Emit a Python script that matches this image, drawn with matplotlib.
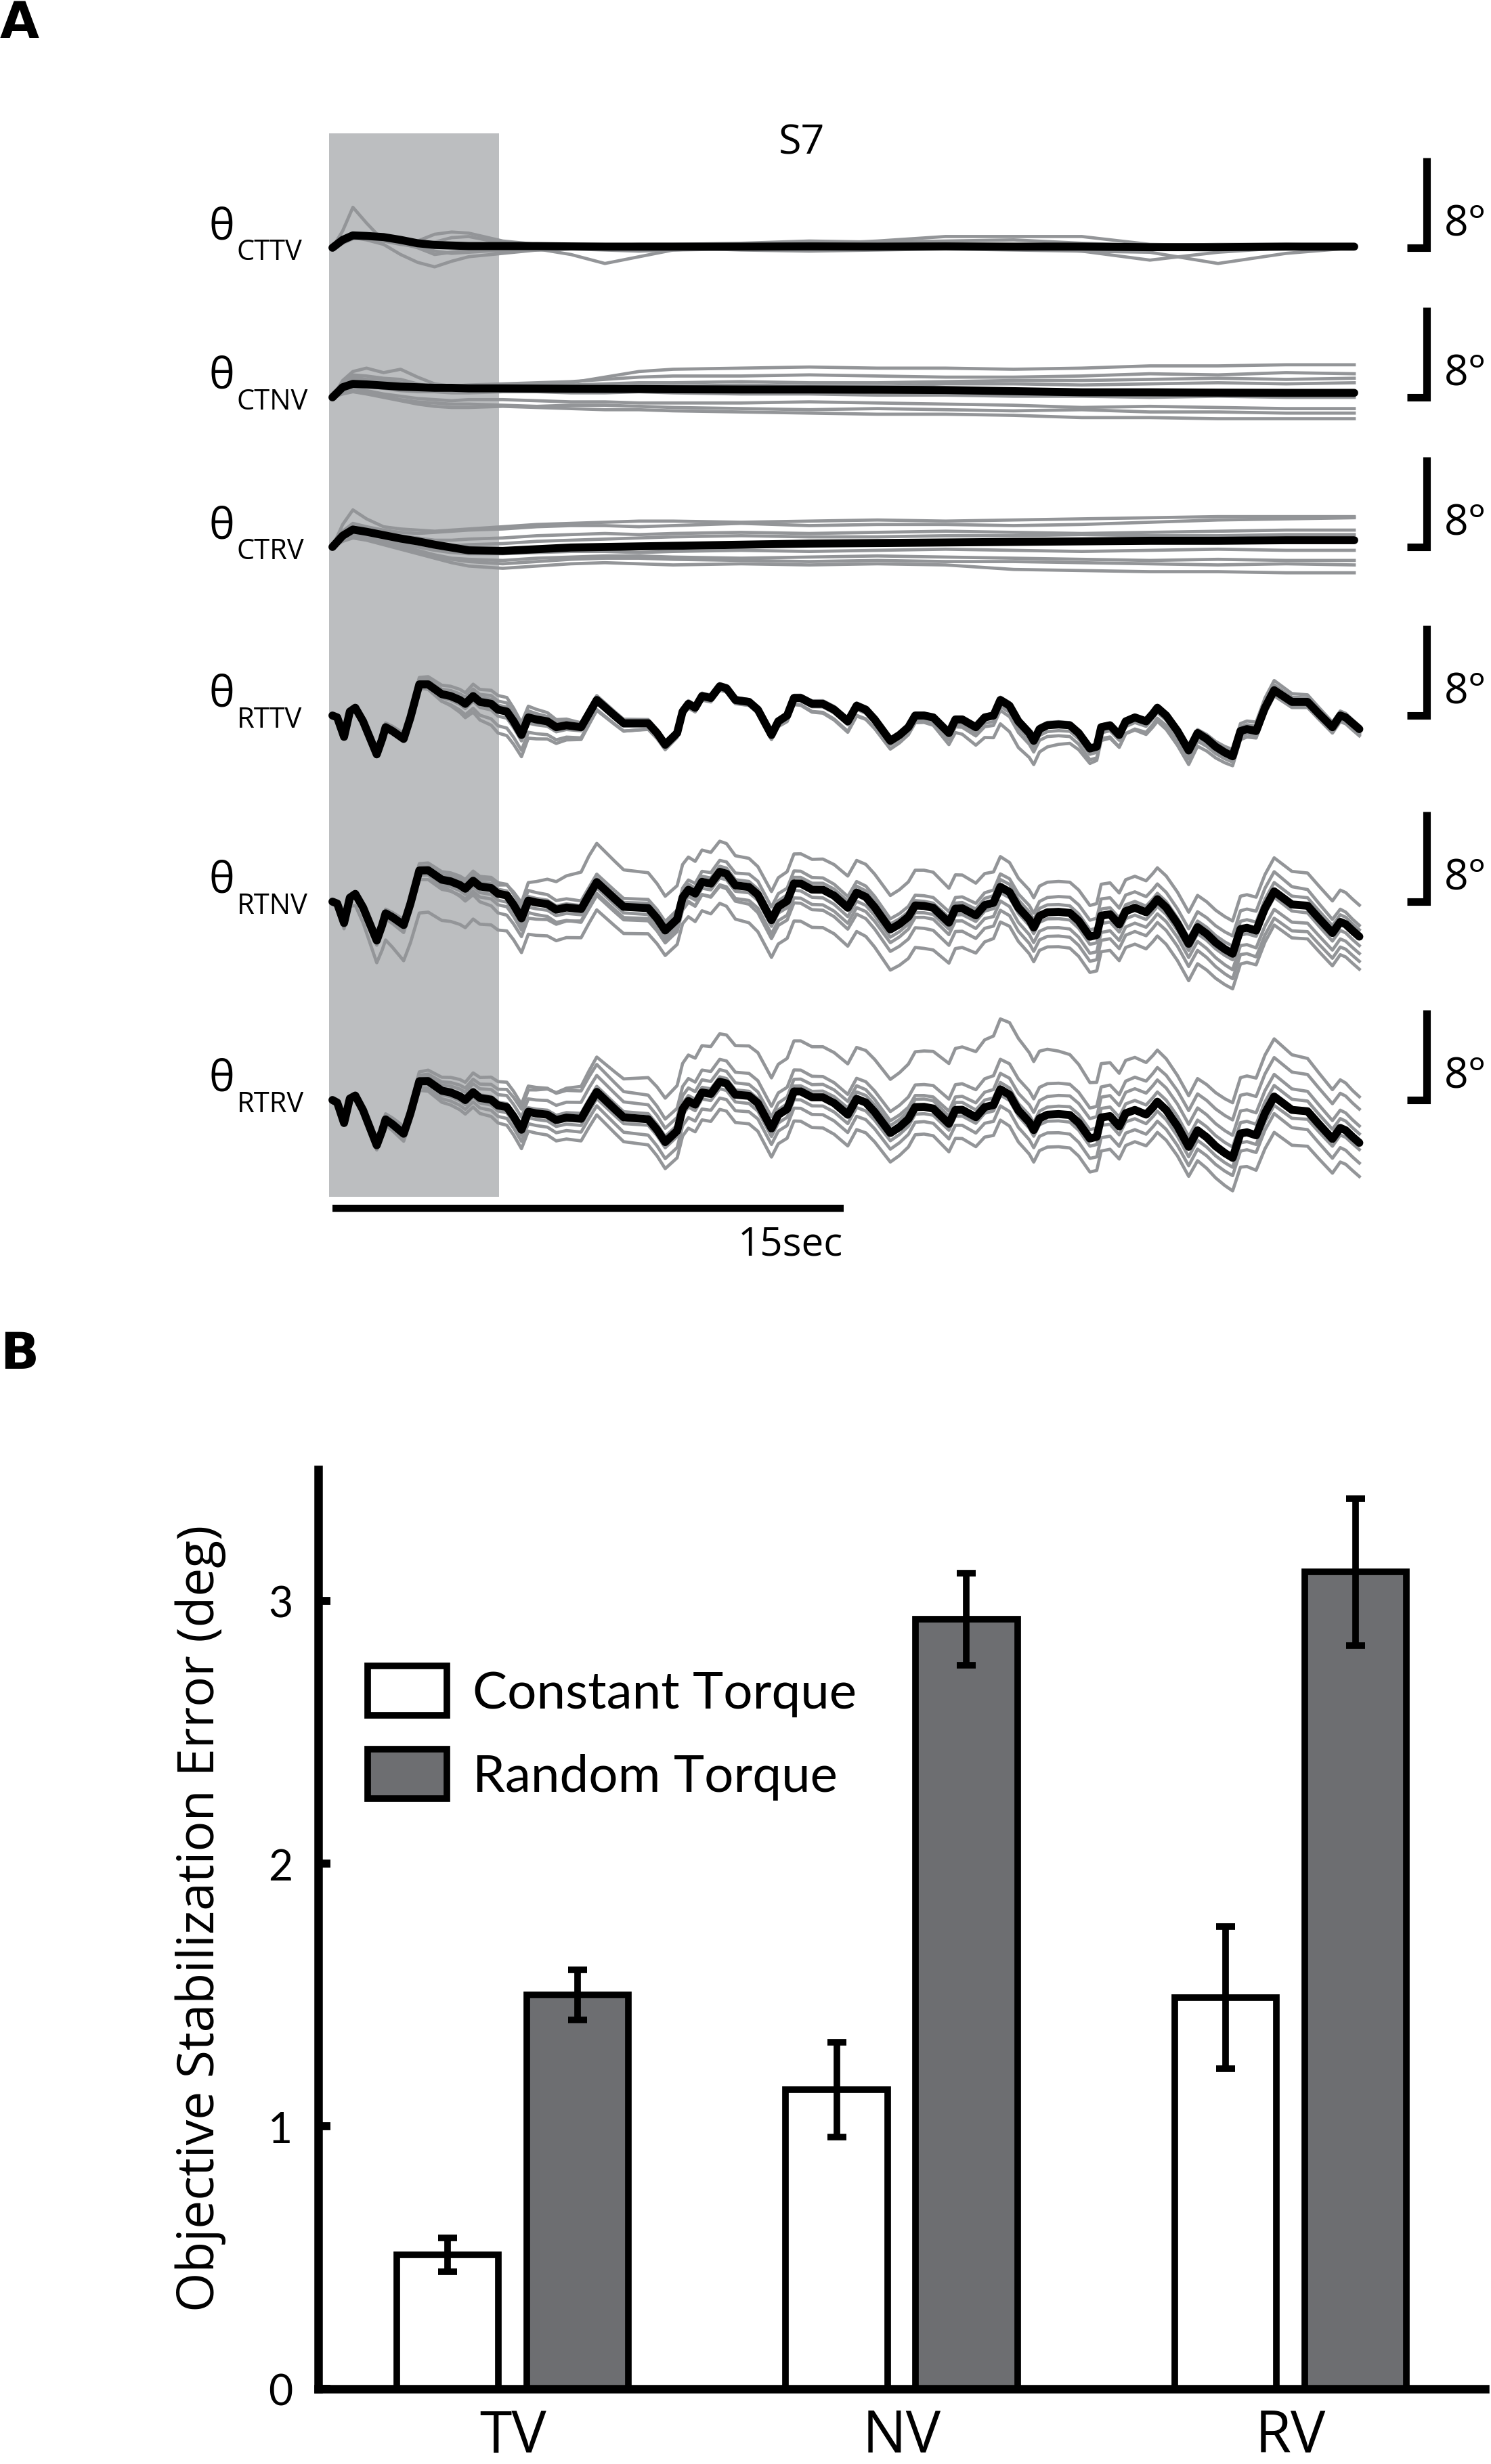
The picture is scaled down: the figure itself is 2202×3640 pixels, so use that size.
import numpy as np
import matplotlib
matplotlib.use('Agg')
import matplotlib.pyplot as plt

# ====================== DATA : panel A (S7 traces) ======================
subject = 'S7'
row_labels = ['CTTV', 'CTNV', 'CTRV', 'RTTV', 'RTNV', 'RTRV']
shade_window = (-0.1, 4.9)      # seconds
time_bar_s = 15                 # seconds
angle_bar_deg = 8               # degrees

# constant-torque rows (deg)
t_ct = [0, 0.3, 0.6, 1.0, 1.5, 2.0, 2.5, 3.0, 3.5, 4.0, 5.0, 6.0, 7.0, 8.0, 9.0,
        10, 12, 14, 16, 18, 20, 22, 24, 26, 28, 30]

cttv_mean = [0, 0.7, 1.1, 1.05, 0.95, 0.7, 0.4, 0.25, 0.2, 0.15, 0.15, 0.15, 0.12,
             0.1, 0.1, 0.1, 0.1, 0.12, 0.1, 0.12, 0.1, 0.1, 0.05, 0.05, 0.1, 0.1]
cttv_trials = [
    [0, 1.5, 3.6, 2.2, 0.6, 0.4, 0.6, 1.2, 1.4, 1.3, 0.6, 0.3, 0.3, 0.2, 0.3, 0.3, 0.4, 0.6, 0.5, 0.6, 0.7, 0.4, 0.2, 0.3, 0.3, 0.2],
    [0, 0.5, 0.9, 0.7, 0.3, -0.6, -1.3, -1.7, -1.2, -0.8, -0.5, -0.2, -0.1, -0.2, -0.3, -0.2, -0.1, 0.0, 0.1, 0.2, 0.1, 0.0, -0.1, -0.2, 0.0, 0.1],
    [0, 0.4, 0.8, 0.9, 0.8, 0.5, 0.2, -0.3, -0.5, -0.4, -0.2, -0.1, -0.6, -1.4, -0.8, -0.2, 0.1, 0.3, 0.6, 1.0, 1.0, 1.0, 0.3, 0.2, 0.1, 0.1],
    [0, 0.6, 1.0, 0.8, 0.6, 0.3, 0.1, 0.5, 0.9, 1.0, 0.4, 0.0, 0.1, 0.0, -0.1, 0.1, 0.2, 0.1, 0.0, -0.1, 0.0, -0.3, -1.1, -0.4, 0.0, 0.0],
    [0, 0.5, 0.9, 0.8, 0.7, 0.4, 0.0, -0.6, -0.4, -0.2, -0.3, -0.2, -0.1, 0.0, 0.1, 0.0, -0.2, -0.3, -0.2, -0.1, -0.2, -0.3, -0.4, -1.4, -0.5, 0.0],
]

ctnv_mean = [0, 0.9, 1.2, 1.15, 1.05, 0.95, 0.9, 0.85, 0.85, 0.8, 0.8, 0.78, 0.76,
             0.75, 0.74, 0.72, 0.7, 0.7, 0.68, 0.65, 0.55, 0.45, 0.45, 0.42, 0.4, 0.4]
ctnv_trials = [
    [0, 1.5, 2.3, 2.6, 2.2, 2.5, 1.8, 1.2, 1.0, 0.9, 1.0, 1.2, 1.3, 1.8, 2.3, 2.5, 2.6, 2.7, 2.6, 2.6, 2.5, 2.6, 2.8, 2.8, 2.9, 2.9],
    [0, 1.2, 1.8, 1.6, 1.5, 1.3, 1.1, 1.0, 1.0, 1.1, 1.2, 1.3, 1.4, 1.6, 1.8, 1.9, 1.9, 2.0, 1.9, 1.8, 1.8, 1.9, 2.1, 2.0, 2.2, 2.1],
    [0, 1.0, 1.6, 1.4, 1.3, 1.1, 1.0, 0.9, 0.9, 1.0, 1.0, 1.0, 1.1, 1.2, 1.3, 1.3, 1.4, 1.3, 1.3, 1.4, 1.5, 1.5, 1.6, 1.7, 1.6, 1.7],
    [0, 0.8, 1.1, 1.0, 0.8, 0.6, 0.5, 0.5, 0.4, 0.4, 0.5, 0.5, 0.4, 0.4, 0.5, 0.4, 0.3, 0.3, 0.2, 0.2, 0.1, 0.1, 0.0, 0.1, 0.0, 0.0],
    [0, 0.6, 0.9, 0.6, 0.3, 0.1, -0.1, -0.2, -0.3, -0.2, -0.2, -0.3, -0.4, -0.4, -0.5, -0.5, -0.5, -0.4, -0.5, -0.6, -0.7, -0.9, -0.8, -0.9, -1.0, -1.0],
    [0, 0.4, 0.6, 0.4, 0.1, -0.2, -0.4, -0.5, -0.6, -0.6, -0.7, -0.8, -0.7, -0.7, -0.8, -0.9, -1.0, -1.1, -1.0, -1.1, -1.2, -1.1, -1.3, -1.3, -1.4, -1.4],
    [0, 0.3, 0.5, 0.3, 0.0, -0.3, -0.6, -0.8, -0.9, -0.9, -0.8, -0.9, -1.0, -1.1, -1.1, -1.2, -1.3, -1.4, -1.5, -1.5, -1.6, -1.8, -1.8, -1.9, -1.9, -1.9],
    [0, 1.3, 2.0, 1.9, 1.7, 1.6, 1.2, 0.9, 0.8, 0.8, 0.9, 1.0, 1.0, 0.9, 1.0, 1.0, 1.1, 1.0, 1.0, 1.2, 1.2, 1.1, 1.2, 1.3, 1.2, 1.3],
]

ctrv_mean = [0, 1.0, 1.55, 1.35, 1.05, 0.75, 0.5, 0.2, -0.05, -0.3, -0.35, -0.2, -0.05,
             0.0, 0.05, 0.1, 0.2, 0.3, 0.35, 0.4, 0.45, 0.5, 0.55, 0.55, 0.6, 0.6]
ctrv_trials = [
    [0, 2.0, 3.3, 2.5, 1.8, 1.6, 1.5, 1.4, 1.5, 1.6, 1.8, 2.0, 2.1, 2.2, 2.3, 2.3, 2.2, 2.3, 2.4, 2.3, 2.4, 2.5, 2.6, 2.7, 2.7, 2.7],
    [0, 1.4, 2.1, 1.8, 1.5, 1.3, 1.2, 1.3, 1.4, 1.5, 1.6, 1.8, 1.9, 1.9, 1.8, 1.9, 2.1, 1.9, 2.0, 2.0, 1.9, 2.0, 2.2, 2.4, 2.5, 2.6],
    [0, 1.2, 1.8, 1.5, 1.2, 1.0, 0.8, 0.6, 0.6, 0.7, 0.8, 1.0, 1.1, 1.2, 1.1, 1.2, 1.3, 1.2, 1.3, 1.4, 1.3, 1.2, 1.3, 1.4, 1.5, 1.5],
    [0, 1.0, 1.5, 1.3, 1.0, 0.7, 0.4, 0.2, 0.1, 0.2, 0.3, 0.5, 0.6, 0.7, 0.8, 0.9, 1.0, 0.9, 0.9, 1.0, 1.0, 1.1, 1.0, 1.0, 1.1, 1.1],
    [0, 0.8, 1.2, 1.0, 0.6, 0.3, 0.0, -0.3, -0.5, -0.6, -0.6, -0.5, -0.4, -0.4, -0.5, -0.4, -0.3, -0.4, -0.3, -0.2, -0.3, -0.4, -0.3, -0.2, -0.3, -0.3],
    [0, 0.7, 1.0, 0.8, 0.4, 0.1, -0.3, -0.7, -1.0, -1.1, -1.2, -1.0, -0.9, -0.8, -0.8, -0.9, -1.0, -0.9, -0.8, -0.9, -1.0, -1.1, -1.2, -1.1, -1.2, -1.2],
    [0, 0.5, 0.8, 0.6, 0.2, -0.2, -0.6, -1.0, -1.4, -1.7, -1.9, -1.7, -1.5, -1.4, -1.5, -1.6, -1.5, -1.6, -1.5, -1.6, -2.0, -2.1, -2.2, -2.2, -2.3, -2.3],
    [0, 0.6, 1.1, 0.9, 0.5, 0.0, -0.4, -0.8, -1.1, -1.3, -1.5, -1.3, -1.1, -1.0, -1.0, -1.1, -1.2, -1.3, -1.2, -1.3, -1.3, -1.4, -1.5, -1.6, -1.5, -1.6],
]

# random-torque rows: mean response (deg) read point by point
t_rt = [0.00, 0.14, 0.34, 0.51, 0.67, 0.90, 1.30, 1.46, 1.56, 1.76,
        2.09, 2.29, 2.55, 2.81, 3.21, 3.47, 3.74, 3.90, 4.13, 4.33,
        4.66, 4.86, 5.12, 5.32, 5.55, 5.75, 5.98, 6.31, 6.57, 6.87,
        7.30, 7.53, 7.76, 8.02, 8.28, 8.55, 8.81, 9.27, 9.53, 9.77,
        10.12, 10.28, 10.45, 10.65, 10.85, 11.11, 11.37, 11.57, 11.83, 12.23,
        12.49, 12.89, 13.09, 13.35, 13.55, 13.75, 14.08, 14.40, 14.73, 15.13,
        15.39, 15.66, 15.92, 16.38, 16.65, 16.91, 17.11, 17.37, 17.64, 18.10,
        18.29, 18.49, 18.89, 19.15, 19.41, 19.61, 19.88, 20.14,
        20.46, 20.59, 20.76, 20.99, 21.32, 21.65, 21.91, 22.24, 22.44, 22.57,
        22.83, 23.10, 23.29, 23.56, 23.89, 24.09, 24.22, 24.48, 24.81, 25.14,
        25.40, 25.67, 25.93, 26.20, 26.43, 26.66, 26.85, 27.12, 27.38, 27.65,
        27.91, 28.17, 28.63, 28.96, 29.36, 29.59, 29.75, 29.95, 30.15]
rttv_mean = [0.00, -0.17, -1.90, 0.35, 0.69, -0.52, -3.46, -2.08, -1.04, -1.38,
             -2.08, -0.17, 2.77, 2.77, 1.90, 1.73, 1.38, 1.04, 1.73, 1.21,
             1.04, 0.52, 0.35, -0.52, -1.73, -0.17, -0.35, -0.52, -1.04, -0.87,
             -1.04, 0.17, 1.38, 0.69, 0.00, -0.69, -0.69, -0.69, -1.56, -2.60,
             -1.56, 0.35, 1.04, 0.69, 1.73, 1.56, 2.60, 2.42, 1.38, 1.21,
             0.52, -1.73, -0.52, 0.00, 1.56, 1.56, 1.04, 1.04, 0.52, -0.52,
             0.87, 0.52, -0.35, -2.25, -1.73, -1.04, 0.00, 0.00, -0.17, -1.56,
             -0.35, -0.35, -1.04, -0.17, 0.00, 1.38, 0.87, -0.52,
             -1.56, -2.25, -1.21, -0.87, -0.80, -0.87, -1.56, -2.94, -2.77, -1.04,
             -0.87, -1.73, -0.52, -0.17, -0.52, 0.17, 0.69, 0.00, -1.38, -3.11,
             -1.56, -2.08, -2.77, -3.29, -3.63, -1.38, -1.21, -1.38, 0.69, 2.25,
             1.73, 1.21, 1.21, 0.17, -1.04, 0.00, -0.17, -0.69, -1.21]

# slow offsets (deg) read at these times, relative to the RTTV mean / row mean
drift_knots = [0, 2.5, 5, 7.5, 10, 12.5, 15, 17.5, 20, 22.5, 25, 27.5, 30]
rtnv_mean_dev = [0, 0.0, 0.2, 0.4, 0.0, 0.1, 0.0, -0.4, 0.0, -0.2, -0.6, -1.3, -1.9]
rtrv_mean_dev = [0, -1.1, -1.0, -0.6, -1.2, -0.8, -0.8, -0.6, -0.4, -0.5, -1.0, -1.9, -2.6]

rttv_trial_dev = [
    [0, 0.6, 1.3, 0.3, 0.2, 0.2, 0.0, 0.2, 0.1, 0.2, 0.1, 0.5, 0.2],
    [0, 0.3, 0.8, 0.1, 0.0, 0.1, 0.2, 0.1, -0.2, -0.1, 0.0, 0.3, 0.0],
    [0, -0.2, -0.6, -0.3, -0.2, -0.2, -0.3, -0.4, -0.6, -0.5, -0.4, -0.3, -0.4],
    [0, -0.3, -1.5, -0.9, -0.4, -0.3, -0.9, -0.6, -2.4, -1.2, -0.8, -0.3, -0.6],
    [0, 0.0, -2.2, -1.0, -0.3, -0.3, -1.0, -0.5, -1.0, -1.0, -1.3, -0.5, -0.5],
    [0, 0.4, 0.4, 0.4, 0.3, 0.2, 0.3, 0.0, 0.3, 0.2, 0.2, 0.9, 0.3],
]
rtnv_trial_dev = [
    [0, 0.3, 0.8, 3.5, 3.0, 2.5, 2.8, 3.2, 2.6, 2.8, 2.8, 3.0, 2.8],
    [0, 0.6, 1.0, 0.7, 0.8, 1.2, 1.0, 0.9, 1.2, 1.5, 1.3, 1.8, 1.0],
    [0, 0.3, 0.4, 0.3, 0.5, 0.5, 0.6, 0.4, 0.7, 0.6, 0.5, 0.8, 0.6],
    [0, -0.4, -0.6, -0.5, -0.6, -0.5, -0.8, -0.6, -0.5, -0.7, -0.6, -0.5, -0.8],
    [0, -0.8, -1.0, -1.2, -1.1, -1.2, -1.4, -1.0, -1.3, -1.5, -1.2, -1.6, -1.5],
    [0, -3.8, -3.2, -2.5, -2.2, -3.3, -3.4, -3.8, -3.0, -3.2, -3.3, -3.0, -2.9],
    [0, -0.2, -1.8, -1.0, -0.9, -1.6, -1.9, -2.0, -2.1, -2.2, -2.0, -2.4, -2.2],
]
rtrv_trial_dev = [
    [0, 0.5, 1.5, 3.0, 4.0, 4.5, 4.5, 5.0, 6.5, 4.8, 4.5, 5.2, 4.1],
    [0, 0.8, 2.2, 2.5, 2.0, 2.0, 1.8, 2.0, 2.8, 2.7, 3.2, 3.5, 3.0],
    [0, 0.3, 1.0, 1.5, 1.2, 1.0, 1.2, 1.0, 1.5, 1.8, 2.0, 2.0, 1.5],
    [0, 0.2, 0.3, 0.5, 0.5, 0.4, 0.6, 0.7, 0.6, 0.8, 0.9, 1.0, 0.8],
    [0, -0.3, -0.5, -0.6, -0.5, -0.7, -0.8, -0.6, -0.5, -0.7, -0.9, -0.8, -0.6],
    [0, -0.6, -1.0, -1.2, -1.5, -1.4, -1.6, -1.3, -1.5, -1.8, -1.7, -1.5, -1.8],
    [0, -0.8, -1.6, -2.0, -2.4, -2.5, -2.8, -2.4, -2.8, -3.0, -2.6, -3.2, -3.0],
]

# ====================== DATA : panel B (bar chart) ======================
conditions = ['TV', 'NV', 'RV']
series_names = ['Constant Torque', 'Random Torque']
constant_mean = [0.51, 1.14, 1.49]
constant_err = [0.065, 0.18, 0.27]
random_mean = [1.50, 2.93, 3.11]
random_err = [0.095, 0.175, 0.28]
y_ticks = [0, 1, 2, 3]
y_label = 'Objective Stabilization Error (deg)'

# ====================== LAYOUT / STYLE ======================
W, H = 2202, 3641
SANS = ['Open Sans', 'DejaVu Sans']
GEO = ['Lato', 'DejaVu Sans']
GREY_TRACE = '#939598'
SHADE = '#BCBEC0'
DARK_BAR = '#6D6E71'

fig = plt.figure(figsize=(W / 100, H / 100), dpi=100)

def fx(px):
    return px / W

def fy(py):
    return 1 - py / H

# ---------- panel A ----------
A_BOT = 1900          # px
X0, PX_S, PX_DEG = 491, 50.3, 16.6
axA = fig.add_axes([0, 1 - A_BOT / H, 1, A_BOT / H])
axA.set_xlim(-X0 / PX_S, (W - X0) / PX_S)
axA.set_ylim(0, A_BOT / PX_DEG)
axA.axis('off')

def ydeg(py):
    return (A_BOT - py) / PX_DEG

def tsec(px):
    return (px - X0) / PX_S

base_px = [367, 588, 809, 1058, 1333, 1626]

axA.axvspan(shade_window[0], shade_window[1],
            ymin=(A_BOT - 1769) / A_BOT, ymax=(A_BOT - 198) / A_BOT,
            color=SHADE, lw=0, zorder=0)

t_ct_a = np.array(t_ct, float)
t_rt_a = np.array(t_rt, float)
rttv_a = np.array(rttv_mean, float)
rtnv_a = rttv_a + np.interp(t_rt_a, drift_knots, rtnv_mean_dev)
rtrv_a = rttv_a + np.interp(t_rt_a, drift_knots, rtrv_mean_dev)

rows = [
    (t_ct_a, np.array(cttv_mean), [np.array(v) for v in cttv_trials]),
    (t_ct_a, np.array(ctnv_mean), [np.array(v) for v in ctnv_trials]),
    (t_ct_a, np.array(ctrv_mean), [np.array(v) for v in ctrv_trials]),
    (t_rt_a, rttv_a, [rttv_a + np.interp(t_rt_a, drift_knots, d) for d in rttv_trial_dev]),
    (t_rt_a, rtnv_a, [rtnv_a + np.interp(t_rt_a, drift_knots, d) for d in rtnv_trial_dev]),
    (t_rt_a, rtrv_a, [rtrv_a + np.interp(t_rt_a, drift_knots, d) for d in rtrv_trial_dev]),
]

for i, (tt, mean, trials) in enumerate(rows):
    b = ydeg(base_px[i])
    for tr in trials:
        axA.plot(tt, b + tr, color=GREY_TRACE, lw=3.4, zorder=2,
                 solid_joinstyle='round')
    axA.plot(tt, b + mean, color='black', lw=8.5, zorder=3,
             solid_joinstyle='round', solid_capstyle='round')
    # scale bar (8 deg)
    xb, xh = tsec(2107), tsec(2078)
    axA.plot([xh, xb, xb], [b, b, b + angle_bar_deg], color='black', lw=8,
             solid_joinstyle='miter', solid_capstyle='butt', zorder=3)
    axA.text(tsec(2133), b + 2.1, f'{angle_bar_deg}\u00b0', ha='left', va='center',
             fontsize=45, family=SANS)
    # row label
    fig.text(fx(346), fy(base_px[i] - 31), '\u03b8', ha='right', va='center',
             fontsize=46, family=SANS)
    fig.text(fx(350), fy(base_px[i] + 6), row_labels[i], ha='left', va='center',
             fontsize=30, family=SANS)

# time bar
axA.plot([0, time_bar_s], [ydeg(1786)] * 2, color='black', lw=7.5,
         solid_capstyle='butt', zorder=3)
axA.text(time_bar_s, ydeg(1839), f'{time_bar_s}sec', ha='right', va='center',
         fontsize=42, family=SANS)

fig.text(fx(1184), fy(212), subject, ha='center', va='center', fontsize=44, family=SANS)

# panel letters
fig.text(fx(0), fy(36), 'A', ha='left', va='center', fontsize=54,
         fontweight='bold', family=['DejaVu Sans'])
fig.text(fx(0), fy(2002), 'B', ha='left', va='center', fontsize=54,
         fontweight='bold', family=['DejaVu Sans'])

# ---------- panel B ----------
L, R, T, B_ = 470, 2193, 2172, 3530
axB = fig.add_axes([fx(L), fy(B_), (R - L) / W, (B_ - T) / H])
x = np.arange(len(conditions))
off, bw = 0.167, 0.262
axB.bar(x - off, constant_mean, bw, facecolor='white', edgecolor='black',
        linewidth=7, label=series_names[0], zorder=2)
axB.bar(x + off, random_mean, bw, facecolor=DARK_BAR, edgecolor='black',
        linewidth=7, label=series_names[1], zorder=2)
axB.errorbar(x - off, constant_mean, yerr=constant_err, fmt='none', ecolor='black',
             elinewidth=7, capsize=10, capthick=7, zorder=3)
axB.errorbar(x + off, random_mean, yerr=random_err, fmt='none', ecolor='black',
             elinewidth=7, capsize=10, capthick=7, zorder=3)

axB.set_xlim(-0.5, 2.5)
axB.set_ylim(0, 3.5)
for s in ['top', 'right']:
    axB.spines[s].set_visible(False)
for s in ['left', 'bottom']:
    axB.spines[s].set_linewidth(9)
axB.set_yticks(y_ticks)
axB.set_yticklabels([str(v) for v in y_ticks], family=GEO, fontsize=45)
axB.tick_params(axis='y', direction='in', length=13, width=8.5, pad=27)
axB.set_xticks(x)
axB.set_xticklabels(conditions, family=SANS, fontsize=62)
axB.tick_params(axis='x', length=0, pad=20)
axB.set_ylabel(y_label, family=SANS, fontsize=54)
axB.yaxis.set_label_coords((334 - L) / (R - L), (B_ - 2834) / (B_ - T))

leg = axB.legend(loc='upper left', bbox_to_anchor=((543 - L) / (R - L), (B_ - 2462) / (B_ - T)),
                 frameon=False, borderpad=0, borderaxespad=0, handlelength=1.53,
                 handleheight=1.09, handletextpad=0.5, labelspacing=0.62,
                 prop={'family': GEO, 'size': 55})

fig.savefig('out.png', dpi=100)
